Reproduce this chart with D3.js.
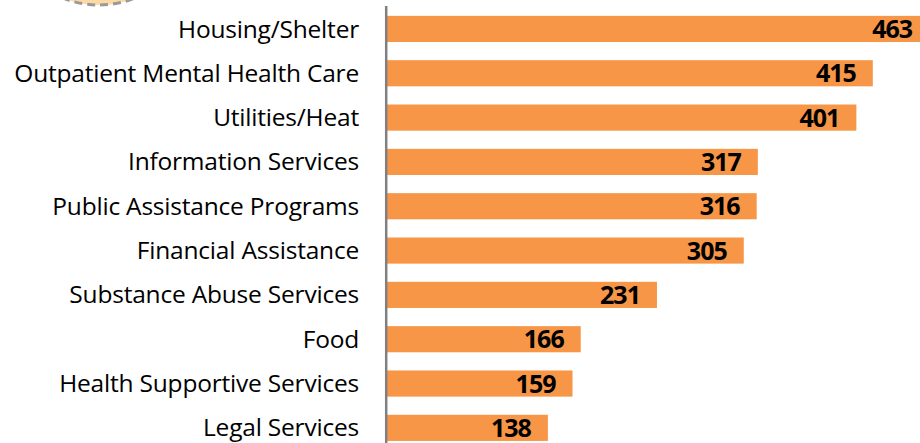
<!DOCTYPE html>
<html>
<head>
<meta charset="utf-8">
<script src="https://cdn.jsdelivr.net/npm/d3@7"></script>
<style>
  body { margin: 0; background: #fff; }
  svg { display: block; }
</style>
</head>
<body>
<div id="chart"></div>
<script>
const categories = [
    "Housing/Shelter",
    "Outpatient Mental Health Care",
    "Utilities/Heat",
    "Information Services",
    "Public Assistance Programs",
    "Financial Assistance",
    "Substance Abuse Services",
    "Food",
    "Health Supportive Services",
    "Legal Services",
];
const counts = [463, 415, 401, 317, 316, 305, 231, 166, 159, 138];

const barColor = "#f79646";
const axisColor = "#808080";

const width = 920;
const height = 443;

const data = categories.map((c, i) => ({ name: c, count: counts[i] }));

const svg = d3.select("#chart")
    .append("svg")
    .attr("width", width)
    .attr("height", height);

// bit of the logo peeking in at the top left
svg.append("circle")
    .attr("cx", 99)
    .attr("cy", -92)
    .attr("r", 97)
    .attr("fill", "#fdd9a6")
    .attr("stroke", "#9a9a9a")
    .attr("stroke-width", 3)
    .attr("stroke-dasharray", "8,5");

const x = d3.scaleLinear()
    .domain([0, 1])
    .range([386, 387.173]);

const y = d3.scaleBand()
    .domain(categories)
    .range([7, 449.8])
    .paddingInner(0.41)
    .paddingOuter(0.2);

const bars = svg.append("g");
bars.selectAll("rect")
    .data(data)
    .join("rect")
    .attr("x", x(0))
    .attr("y", d => y(d.name))
    .attr("width", d => x(d.count) - x(0))
    .attr("height", y.bandwidth())
    .attr("fill", barColor);

// category axis
const gy = svg.append("g")
    .attr("transform", `translate(${x(0)},0)`)
    .call(d3.axisLeft(y).tickSize(0).tickPadding(27))
    .call(g => g.select(".domain").remove());

gy.selectAll("text")
    .attr("font-family", "'Open Sans', sans-serif")
    .attr("font-size", 24.5)
    .attr("letter-spacing", -0.2)
    .attr("fill", "#000")
    .attr("dy", "0.35em");

svg.append("line")
    .attr("x1", 386.2).attr("x2", 386.2)
    .attr("y1", 6).attr("y2", height)
    .attr("stroke", axisColor)
    .attr("stroke-width", 2.5);

svg.append("g")
    .selectAll("text")
    .data(data)
    .join("text")
    .attr("x", d => x(d.count) - 17)
    .attr("y", d => y(d.name) + y.bandwidth() / 2)
    .attr("dy", "0.36em")
    .attr("text-anchor", "end")
    .attr("font-family", "'Open Sans', sans-serif")
    .attr("font-weight", 700)
    .attr("font-size", 25)
    .attr("letter-spacing", -1)
    .attr("fill", "#000")
    .text(d => d.count);
</script>
</body>
</html>
